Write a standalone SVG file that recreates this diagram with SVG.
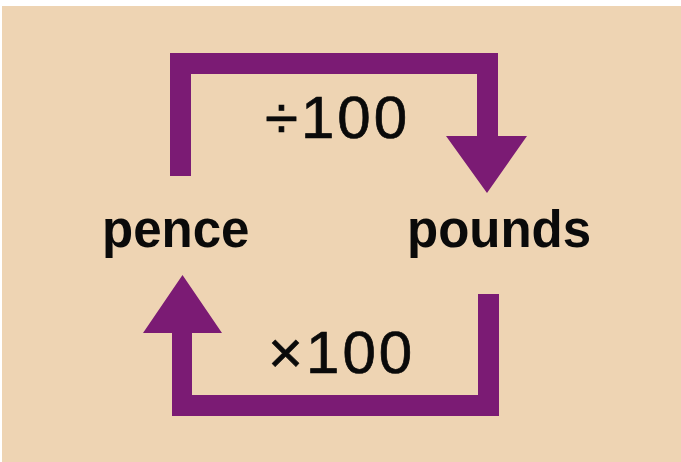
<svg xmlns="http://www.w3.org/2000/svg" width="681" height="462" viewBox="0 0 681 462">
  <style>
    .bg { fill: #EED4B3; }
    .arrow { fill: #7B1B74; }
    .label { font-family: "Liberation Sans", Arial, sans-serif; font-weight: bold; font-size: 51px; fill: #0A0A0A; }
    .op { font-family: "Liberation Sans", Arial, sans-serif; font-size: 60px; letter-spacing: 3px; fill: #0A0A0A; stroke: #0A0A0A; stroke-width: 0.7px; }
  </style>
  <rect x="0" y="0" width="681" height="462" fill="#FFFFFF"/>
  <rect class="bg" x="2" y="6" width="679" height="456"/>
  <g id="connectors">
    <g id="divide-arrow">
      <polygon class="arrow" points="170,176 170,53 498,53 498,136 527,136 487,193 446,136 477,136 477,74 191,74 191,176"/>
      <text class="op" x="265" y="138">÷100</text>
    </g>
    <g id="multiply-arrow">
      <polygon class="arrow" points="172,333 143,333 182.5,275 222,333 192,333 192,395 478,395 478,294 499,294 499,416 172,416"/>
      <text class="op" x="268" y="373">×100</text>
    </g>
  </g>
  <g id="node-pence">
    <text class="label" x="102" y="247">pence</text>
  </g>
  <g id="node-pounds">
    <text class="label" x="407" y="247">pounds</text>
  </g>
</svg>
